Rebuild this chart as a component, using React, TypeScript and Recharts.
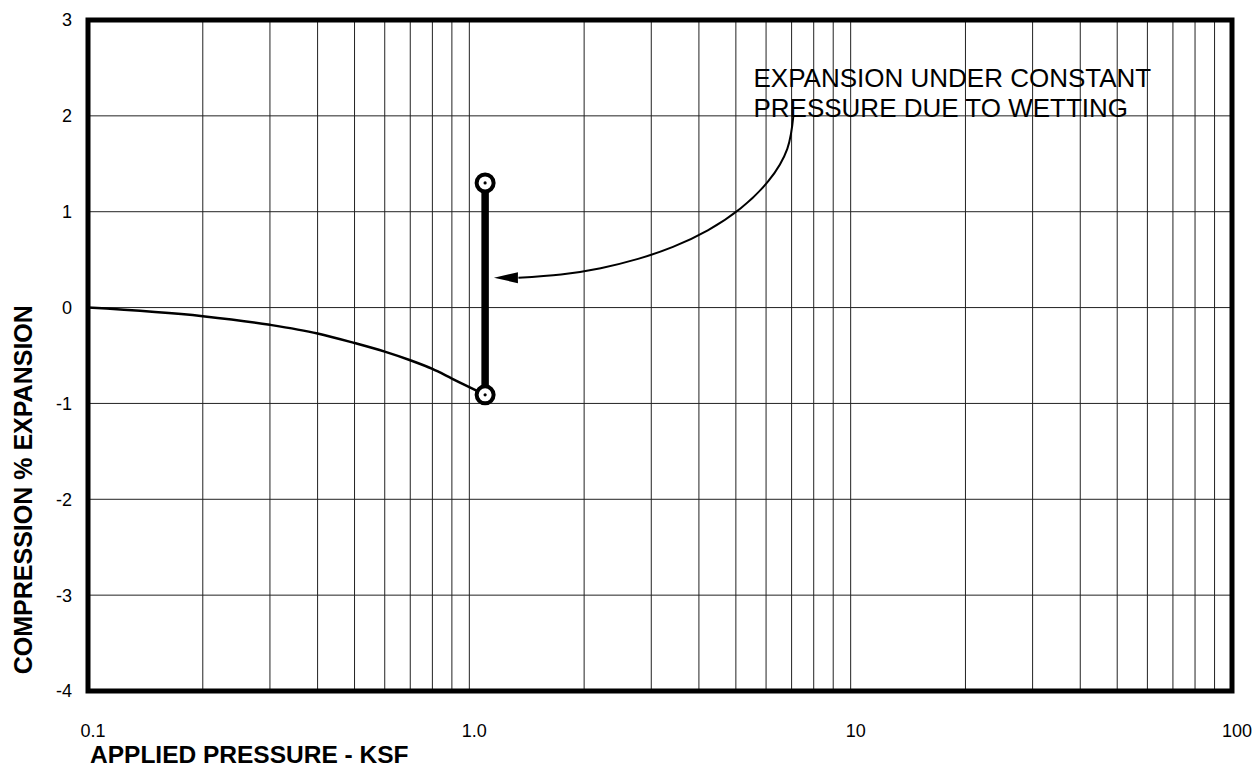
import React from 'react';
import {
  ComposedChart,
  Line,
  Scatter,
  XAxis,
  YAxis,
  CartesianGrid,
  ReferenceArea,
} from 'recharts';

// ---- axis ticks ----
const xTicks = [
  0.1, 0.2, 0.3, 0.4, 0.5, 0.6, 0.7, 0.8, 0.9,
  1, 2, 3, 4, 5, 6, 7, 8, 9,
  10, 20, 30, 40, 50, 60, 70, 80, 90, 100,
];
const xTickLabels: Record<string, string> = { '0.1': '0.1', '1': '1.0', '10': '10', '100': '100' };
const yTicks = [-4, -3, -2, -1, 0, 1, 2, 3];

// ---- consolidation curve (before wetting) ----
const curveX = [0.1, 0.2, 0.3, 0.4, 0.5, 0.6, 0.7, 0.8, 0.9, 1.0, 1.1];
const curveY = [0, -0.09, -0.18, -0.27, -0.37, -0.46, -0.55, -0.64, -0.74, -0.83, -0.91];

// ---- expansion due to wetting ----
const wettingX = [1.1, 1.1];
const wettingY = [-0.91, 1.3];

// ---- annotation arrow (read along the drawn arc) ----
const arrowX = [1.345, 1.74, 2.21, 2.77, 3.42, 4.22, 5.14, 6.08, 6.82, 7.08];
const arrowY = [0.312, 0.346, 0.411, 0.508, 0.633, 0.806, 1.034, 1.318, 1.656, 2.01];
const arrowTipX = [1.16];
const arrowTipY = [0.312];

// ---- annotation text ----
const noteLines = ['EXPANSION UNDER CONSTANT', 'PRESSURE DUE TO WETTING'];
const noteX = [5.56];
const noteY = [2.3];

const zip = (xs: number[], ys: number[]) => xs.map((x, i) => ({ x, y: ys[i] }));

const curveData = zip(curveX, curveY);
const wettingData = zip(wettingX, wettingY);
const arrowData = zip(arrowX, arrowY);
const arrowTipData = zip(arrowTipX, arrowTipY);
const noteData = zip(noteX, noteY);

const FONT = '"Liberation Sans", Arial, Helvetica, sans-serif';

const XTick = (props: any) => {
  const { x, y, payload } = props;
  const label = xTickLabels[String(payload.value)];
  if (!label) return null;
  return (
    <text x={x + 5} y={y + 46} textAnchor="middle" fontFamily={FONT} fontSize={18} fill="#000">
      {label}
    </text>
  );
};

const YTick = (props: any) => {
  const { x, y, payload } = props;
  return (
    <text x={x - 16} y={y} dy="0.36em" textAnchor="end" fontFamily={FONT} fontSize={18} fill="#000">
      {payload.value}
    </text>
  );
};

const EndPoint = (props: any) => {
  const { cx, cy } = props;
  return (
    <g>
      <circle cx={cx} cy={cy} r={8.5} fill="#fff" stroke="#000" strokeWidth={4} />
      <circle cx={cx} cy={cy} r={1.6} fill="#000" />
    </g>
  );
};

const ArrowHead = (props: any) => {
  const { cx, cy } = props;
  return <path d={`M${cx},${cy} L${cx + 24},${cy - 5.5} L${cx + 24},${cy + 5.5} Z`} fill="#000" />;
};

const NoteText = (props: any) => {
  const { cx, cy } = props;
  return (
    <text x={cx} y={cy} fontFamily={FONT} fontSize={26} fill="#000">
      {noteLines.map((l, i) => (
        <tspan key={i} x={cx} dy={i === 0 ? 0 : 29.5}>
          {l}
        </tspan>
      ))}
    </text>
  );
};

export default function App() {
  return (
    <div style={{ position: 'absolute', left: 0, top: 0, width: 1252, height: 767, background: '#fff', fontFamily: FONT }}>
      <ComposedChart width={1252} height={767} margin={{ top: 20, right: 20, bottom: 0, left: 0 }}>
        <CartesianGrid stroke="#222" strokeWidth={1} />
        <XAxis
          dataKey="x"
          type="number"
          scale="log"
          domain={[0.1, 100]}
          ticks={xTicks}
          allowDataOverflow
          height={76}
          tickSize={0}
          tickMargin={0}
          tickLine={false}
          axisLine={false}
          tick={<XTick />}
          interval={0}
          label={{
            content: (p: any) => (
              <text
                x={p.viewBox.x + 2}
                y={p.viewBox.y + 72}
                fontFamily={FONT}
                fontWeight="bold"
                fontSize={24.5}
                fill="#000"
              >
                APPLIED PRESSURE - KSF
              </text>
            ),
          }}
        />
        <YAxis
          dataKey="y"
          type="number"
          domain={[-4, 3]}
          ticks={yTicks}
          allowDataOverflow
          width={88}
          tickSize={0}
          tickMargin={0}
          tickLine={false}
          axisLine={false}
          tick={<YTick />}
          interval={0}
          label={{
            content: (p: any) => {
              const cx = p.viewBox.x + 32;
              const cy = p.viewBox.y + p.viewBox.height * 0.7;
              return (
                <text
                  x={cx}
                  y={cy}
                  transform={`rotate(-90, ${cx}, ${cy})`}
                  textAnchor="middle"
                  fontFamily={FONT}
                  fontWeight="bold"
                  fontSize={25}
                  fill="#000"
                >
                  COMPRESSION % EXPANSION
                </text>
              );
            },
          }}
        />
        <ReferenceArea
          x1={0.1}
          x2={100}
          y1={-4}
          y2={3}
          fill="none"
          fillOpacity={0}
          stroke="#000"
          strokeWidth={5}
          ifOverflow="visible"
        />
        <Line
          data={curveData}
          dataKey="y"
          type="monotone"
          stroke="#000"
          strokeWidth={2.5}
          dot={false}
          activeDot={false}
          isAnimationActive={false}
        />
        <Line
          data={wettingData}
          dataKey="y"
          type="linear"
          stroke="#000"
          strokeWidth={7.5}
          dot={false}
          activeDot={false}
          isAnimationActive={false}
        />
        <Line
          data={arrowData}
          dataKey="y"
          type="natural"
          stroke="#000"
          strokeWidth={2}
          dot={false}
          activeDot={false}
          isAnimationActive={false}
        />
        <Scatter data={arrowTipData} dataKey="y" shape={<ArrowHead />} isAnimationActive={false} />
        <Scatter data={wettingData} dataKey="y" shape={<EndPoint />} isAnimationActive={false} />
        <Scatter data={noteData} dataKey="y" shape={<NoteText />} isAnimationActive={false} />
      </ComposedChart>
    </div>
  );
}
